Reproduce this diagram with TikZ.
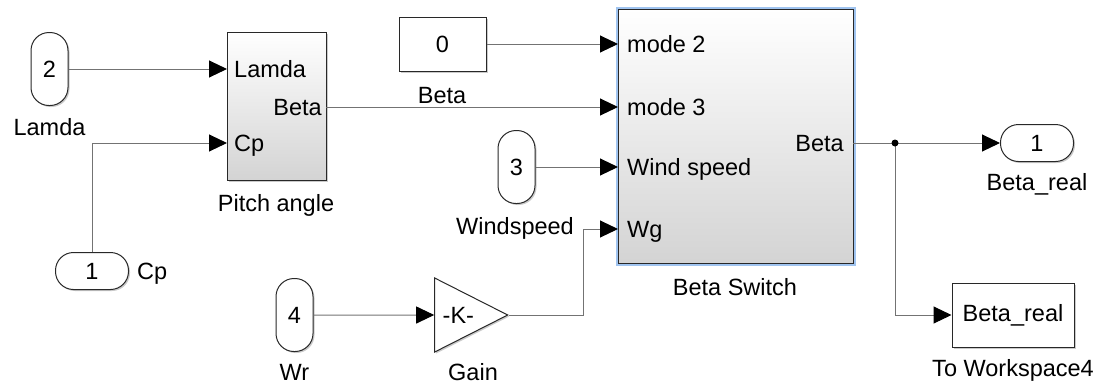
\documentclass[tikz,border=0pt]{standalone}
\usepackage{fontspec}
\setmainfont{Liberation Sans}
\usetikzlibrary{arrows.meta,shapes.geometric,shadows}
\definecolor{halo}{RGB}{160,196,240}
\definecolor{edge}{RGB}{40,40,40}
\definecolor{wire}{RGB}{115,115,115}
\begin{document}
\begin{tikzpicture}[x=1pt,y=-1pt,
  font=\fontsize{23.5}{28}\selectfont,
  sig/.style={draw=wire, line width=1pt},
  tip/.style={-{Triangle[length=18pt,width=17pt,color=black]}},
  shade/.style={drop shadow={shadow xshift=1.5pt, shadow yshift=-1.5pt,
    opacity=0.35, fill=black!60}},
  vport/.style={draw=edge, line width=1pt, rounded corners=18pt, fill=white, shade,
    minimum width=37pt, minimum height=73pt, inner sep=0pt},
  hport/.style={draw=edge, line width=1pt, rounded corners=18pt, fill=white, shade,
    minimum width=73pt, minimum height=37pt, inner sep=0pt},
  blk/.style={draw=edge, line width=1pt, inner sep=0pt,
    top color=white, bottom color=black!17},
  plain/.style={draw=edge, line width=1pt, inner sep=0pt, fill=white, shade},
  txt/.style={inner sep=0pt, text height=16.5pt, text depth=0pt},
]
\useasboundingbox (0,0) rectangle (1105,384);

% Inport 2 and the Pitch angle subsystem
\node[vport] (in2) at (49.5,69) {2};
\node[txt] (in2lbl) at (49.5,127) {Lamda};
\node[blk, shade, minimum width=99pt, minimum height=148pt] (pa) at (276.5,106) {};
\node[txt, anchor=west] (paL) at (234,69) {Lamda};
\node[txt, anchor=east] (paB) at (322,107) {Beta};
\node[txt, anchor=west] (paC) at (234,143) {Cp};
\node[txt] (palbl) at (276,203) {Pitch angle};
\coordinate (pa-lam) at (227,69);
\coordinate (pa-cp) at (227,143);
\coordinate (pa-out) at (326,107);

% Inport 1 (Cp)
\node[hport] (cp) at (92,271) {1};
\node[txt, anchor=west] (cplbl) at (137,271) {Cp};

% Constant block
\node[plain, minimum width=87pt, minimum height=54pt] (c0) at (442.5,44) {0};
\node[txt] (c0lbl) at (442,95) {Beta};

% Beta Switch subsystem
\node[blk, minimum width=235pt, minimum height=254pt,
  preaction={draw=halo, line width=5pt}] (bs) at (735.5,136) {};
\node[txt, anchor=west] (bsM2) at (627,44) {mode 2};
\node[txt, anchor=west] (bsM3) at (627,107) {mode 3};
\node[txt, anchor=west] (bsWS) at (627,167) {Wind speed};
\node[txt, anchor=west] (bsWG) at (627,229) {Wg};
\node[txt, anchor=east] (bsB) at (844,143) {Beta};
\node[txt] (bslbl) at (735,287) {Beta Switch};
\coordinate (bs-m2) at (618,44);
\coordinate (bs-m3) at (618,107);
\coordinate (bs-ws) at (618,167);
\coordinate (bs-wg) at (618,229);
\coordinate (bs-out) at (853,143);

% Inport 3 (Windspeed)
\node[vport] (in3) at (516.5,167) {3};
\node[txt] (in3lbl) at (515,226) {Windspeed};

% Inport 4 (Wr) and Gain
\node[vport] (in4) at (294.5,315) {4};
\node[txt] (in4lbl) at (294.5,372) {Wr};
\node[draw=edge, line width=1pt, fill=white, shade, isosceles triangle,
  isosceles triangle stretches, shape border rotate=0,
  minimum width=74pt, minimum height=73pt, inner sep=0pt,
  anchor=apex] (gain) at (509,315) {-K-};
\node[txt] (gainlbl) at (473,372) {Gain};
\coordinate (wgbend) at (583,229);

% Outport and To Workspace
\node[hport] (out1) at (1037,143) {1};
\node[txt] (out1lbl) at (1037,182) {Beta\_real};
\node[plain, minimum width=122pt, minimum height=64pt] (ws) at (1013,315) {Beta\_real};
\node[txt] (wslbl) at (1013,368) {To Workspace4};
\coordinate (br) at (895,143);

% Signal lines
\draw[sig,tip] (in2.east) -- (pa-lam);
\draw[sig,tip] (cp.north) |- (pa-cp);
\draw[sig,tip] (pa-out) -- (bs-m3);
\draw[sig,tip] (c0.east) -- (bs-m2);
\draw[sig,tip] (in3.east) -- (bs-ws);
\draw[sig,tip] (in4.east) -- (gain.west);
\draw[sig,tip] (gain.apex) -| (wgbend) -- (bs-wg);
\draw[sig,tip] (bs-out) -- (out1.west);
\draw[sig,tip] (br) |- (ws.west);
\fill[black] (br) circle (3.5pt);
\end{tikzpicture}
\end{document}
